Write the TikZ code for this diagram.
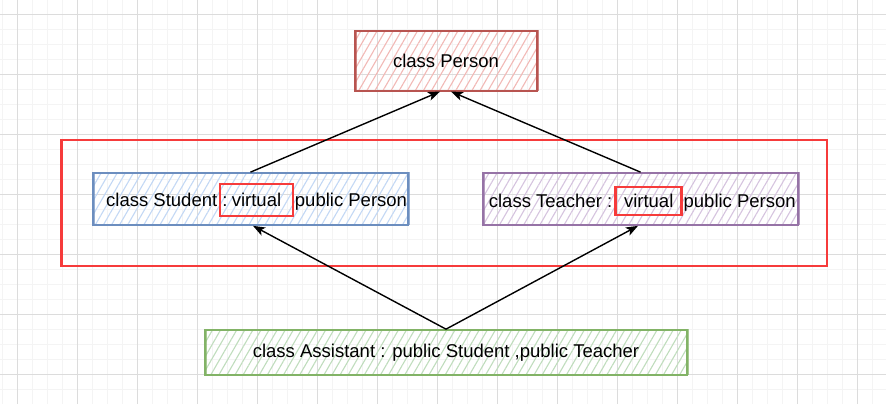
\documentclass[tikz,border=0pt]{standalone}
\usepackage{fontspec}
\setmainfont{Liberation Sans}
\usetikzlibrary{arrows.meta,patterns.meta}
\definecolor{gridmaj}{HTML}{DCDCDC}
\definecolor{gridmin}{HTML}{F4F4F4}
\definecolor{personB}{HTML}{B85450}
\definecolor{personF}{HTML}{F2B9B6}
\definecolor{studentB}{HTML}{6C8EBF}
\definecolor{studentF}{HTML}{C3D8F5}
\definecolor{teacherB}{HTML}{9673A6}
\definecolor{teacherF}{HTML}{D6C4DF}
\definecolor{assistB}{HTML}{82B366}
\definecolor{assistF}{HTML}{C0DDBD}
\definecolor{hl}{HTML}{F63B3B}
\tikzset{
  minorline/.style={draw=gridmin, line width=1pt},
  majorline/.style={draw=gridmaj, line width=1pt},
  classbox/.style={rectangle, draw=#1, line width=1.7pt, inner sep=0pt,
    font=\fontsize{18.5}{22}\selectfont,
    postaction={draw=#1, line width=0.8pt, draw opacity=0.7,
      transform canvas={shift={(0.9pt,1pt)}}}},
  hatch/.style={pattern={Lines[angle=60,distance=7pt,line width=1.1pt]}, pattern color=#1},
  lbl/.style={inner sep=0pt, font=\fontsize{18.5}{22}\selectfont},
  virt/.style={draw=hl, line width=2.5pt, inner sep=0pt, font=\fontsize{18.5}{22}\selectfont},
  frame/.style={draw=hl, line width=2.5pt, inner sep=0pt},
  arr/.style={draw=black, line width=1.4pt, -{Stealth[length=12pt,width=9pt,inset=3pt]}}
}
\begin{document}
\begin{tikzpicture}[x=1pt,y=-1pt]
\useasboundingbox (0,0) rectangle (886,404);
\fill[white] (0,0) rectangle (886,404);
% grid
\foreach \i in {0,...,59} {\draw[minorline] ({2.5+15*\i},0) -- ({2.5+15*\i},404);}
\foreach \j in {0,...,27} {\draw[minorline] (0,{-0.5+15*\j}) -- (886,{-0.5+15*\j});}
\foreach \i in {0,...,14} {\draw[majorline] ({17.5+60*\i},0) -- ({17.5+60*\i},404);}
\foreach \j in {0,...,6} {\draw[majorline] (0,{14.5+60*\j}) -- (886,{14.5+60*\j});}

% outer red frame
\node[frame, minimum width=765.5pt, minimum height=126pt] (group) at (444.25,203) {};

% class boxes
\node[classbox=personB, hatch=personF, minimum width=182pt, minimum height=60pt] (person) at (446,61) {class Person};
\node[classbox=studentB, hatch=studentF, minimum width=315pt, minimum height=52pt] (student) at (250.5,199) {};
\node[classbox=teacherB, hatch=teacherF, minimum width=315pt, minimum height=52pt] (teacher) at (640.5,199) {};
\node[classbox=assistB, hatch=assistF, minimum width=482pt, minimum height=45pt] (assistant) at (446,352.5) {class Assistant : public Student ,public Teacher};

% student label
\node[virt, minimum width=73pt, minimum height=32pt] (svirt) at (256.5,200) {virtual};
\node[lbl, anchor=base east] (sleft) at ([xshift=9pt]svirt.base west) {class Student :};
\node[lbl, anchor=base west] (sright) at ([xshift=0.5pt]svirt.base east) {public Person};

% teacher label
\node[virt, minimum width=66pt, minimum height=28pt] (tvirt) at (648.7,201) {virtual};
\node[lbl, anchor=base east] (tleft) at ([xshift=-2pt]tvirt.base west) {class Teacher :};
\node[lbl, anchor=base west] (tright) at ([xshift=0.5pt]tvirt.base east) {public Person};

% arrow end points
\coordinate (pin1) at ([xshift=-6pt]person.south);
\coordinate (pin2) at ([xshift=5pt]person.south);
\coordinate (sin) at ([xshift=2.5pt]student.south);
\coordinate (tin) at ([xshift=-2.5pt]teacher.south);

% connectors
\draw[arr] (student.north) -- (pin1);
\draw[arr] (teacher.north) -- (pin2);
\draw[arr] (assistant.north) -- (sin);
\draw[arr] (assistant.north) -- (tin);
\end{tikzpicture}
\end{document}
